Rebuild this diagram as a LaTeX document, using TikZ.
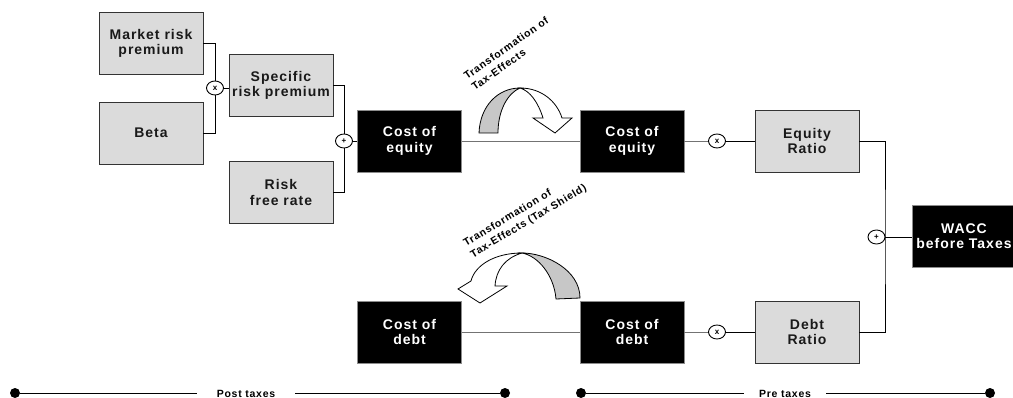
\documentclass[tikz,border=0pt]{standalone}
\usepackage{fontspec}
\setmainfont{Liberation Sans}[LetterSpace=7]
\usetikzlibrary{shapes.geometric}
\begin{document}
\begin{tikzpicture}[x=1pt,y=-1pt]

  \tikzstyle{box} = [draw=black!80, line width=0.9pt, fill=black!14, text=black!90, minimum width=104, minimum height=62, inner sep=0, align=center, font=\fontsize{14}{15.5}\selectfont\bfseries]
  \tikzstyle{dark} = [box, fill=black, draw=black!45, text=white]
  \tikzstyle{op} = [ellipse, draw, line width=0.9pt, fill=white, minimum width=17, minimum height=14, inner sep=0, font=\fontsize{8}{8}\selectfont\bfseries]
  \tikzstyle{wire} = [line width=0.9pt]
  \tikzstyle{gline} = [line width=0.9pt, black!55]
  \tikzstyle{dot} = [circle, fill=black, minimum size=10, inner sep=0]
  \tikzstyle{tl} = [font=\fontsize{10.5}{12}\selectfont\bfseries, inner ysep=0, inner xsep=15, anchor=base]
  \tikzstyle{note} = [font=\fontsize{10.5}{13.5}\selectfont\bfseries, align=left, inner sep=0, anchor=north west]
  \tikzstyle{band} = [draw=black, line width=0.8pt, fill=black!22]
  \tikzstyle{face} = [draw=black, line width=0.8pt, fill=white]

  \useasboundingbox (0,0) rectangle (1013,398);

  \node[box] (MRP) at (151,43.5) {Market risk\\premium};
  \node[box] (BETA) at (151,133) {Beta};
  \node[box] (SRP) at (281,85.5) {Specific\\risk premium};
  \node[box] (RFR) at (281,192.5) {Risk\\free rate};
  \node[op] (X1) at (215,88) {x};
  \node[op] (P1) at (344,141) {+};

  \node[dark] (CoE1) at (409.5,141) {Cost of\\equity};
  \node[dark] (CoE2) at (632,141) {Cost of\\equity};
  \node[op] (X2) at (717,141) {x};
  \node[box] (ER) at (807,141) {Equity\\Ratio};

  \node[dark] (CoD1) at (409.5,332) {Cost of\\debt};
  \node[dark] (CoD2) at (632,332) {Cost of\\debt};
  \node[op] (X3) at (717,332) {x};
  \node[box] (DR) at (807,332) {Debt\\Ratio};

  \coordinate (BUS) at (885,237);
  \node[op] (P2) at (876.5,237) {+};
  \node[dark] (WACC) at (964,236) {WACC\\before Taxes};

  \draw[wire] (MRP.east) -| (X1.north);
  \draw[wire] (BETA.east) -| (X1.south);
  \draw[wire] (X1.east) -- (X1.east -| SRP.west);
  \draw[wire] (SRP.east) -| (P1.north);
  \draw[wire] (RFR.east) -| (P1.south);
  \draw[wire] (P1.east) -- (CoE1.west);

  \draw[gline] (CoE1) -- (CoE2);
  \draw[gline] (CoE2) -- (X2);
  \draw[wire] (X2) -- (ER);
  \draw[gline] (CoD1) -- (CoD2);
  \draw[gline] (CoD2) -- (X3);
  \draw[wire] (X3) -- (DR);

  \draw[wire] (ER.east) -| (BUS) |- (DR.east);
  \draw[wire] (BUS) -- (WACC.west |- BUS);

  \filldraw[band] (479,133) .. controls (480,106) and (498,88) .. (520,88) .. controls (508,93) and (498,110) .. (498,133) -- cycle;
  \filldraw[face] (520,88) .. controls (542,88) and (557,102) .. (562,118) -- (572,118) -- (555,133) -- (533,118) -- (543,118) .. controls (538,102) and (530,91) .. (520,88) -- cycle;
  \node[note, rotate=35] (TAX1) at (462.5,73.5) {Transformation of\\Tax-Effects};

  \filldraw[band] (580,298) .. controls (580,270) and (546,253) .. (522,253) .. controls (538,256) and (554,275) .. (556,299) -- cycle;
  \filldraw[face] (522,253) .. controls (495,253) and (475,265) .. (471,281) -- (458,289) -- (480,303) -- (507,286) -- (495,286) .. controls (496,270) and (505,258) .. (522,253) -- cycle;
  \node[note, rotate=31] (TAX2) at (462,240) {Transformation of\\Tax-Effects (Tax Shield)};

  \node[dot] (PostL) at (15,393) {};
  \node[dot] (PostR) at (505,393) {};
  \node[tl, inner xsep=20] (POST) at (246,397.5) {Post taxes};
  \draw[wire] (PostL) -- (PostL -| POST.west);
  \draw[wire] (POST.east |- PostR) -- (PostR);

  \node[dot] (PreL) at (581,393) {};
  \node[dot] (PreR) at (990,393) {};
  \node[tl] (PRE) at (785,397.5) {Pre taxes};
  \draw[wire] (PreL) -- (PreL -| PRE.west);
  \draw[wire] (PRE.east |- PreR) -- (PreR);

\end{tikzpicture}
\end{document}
